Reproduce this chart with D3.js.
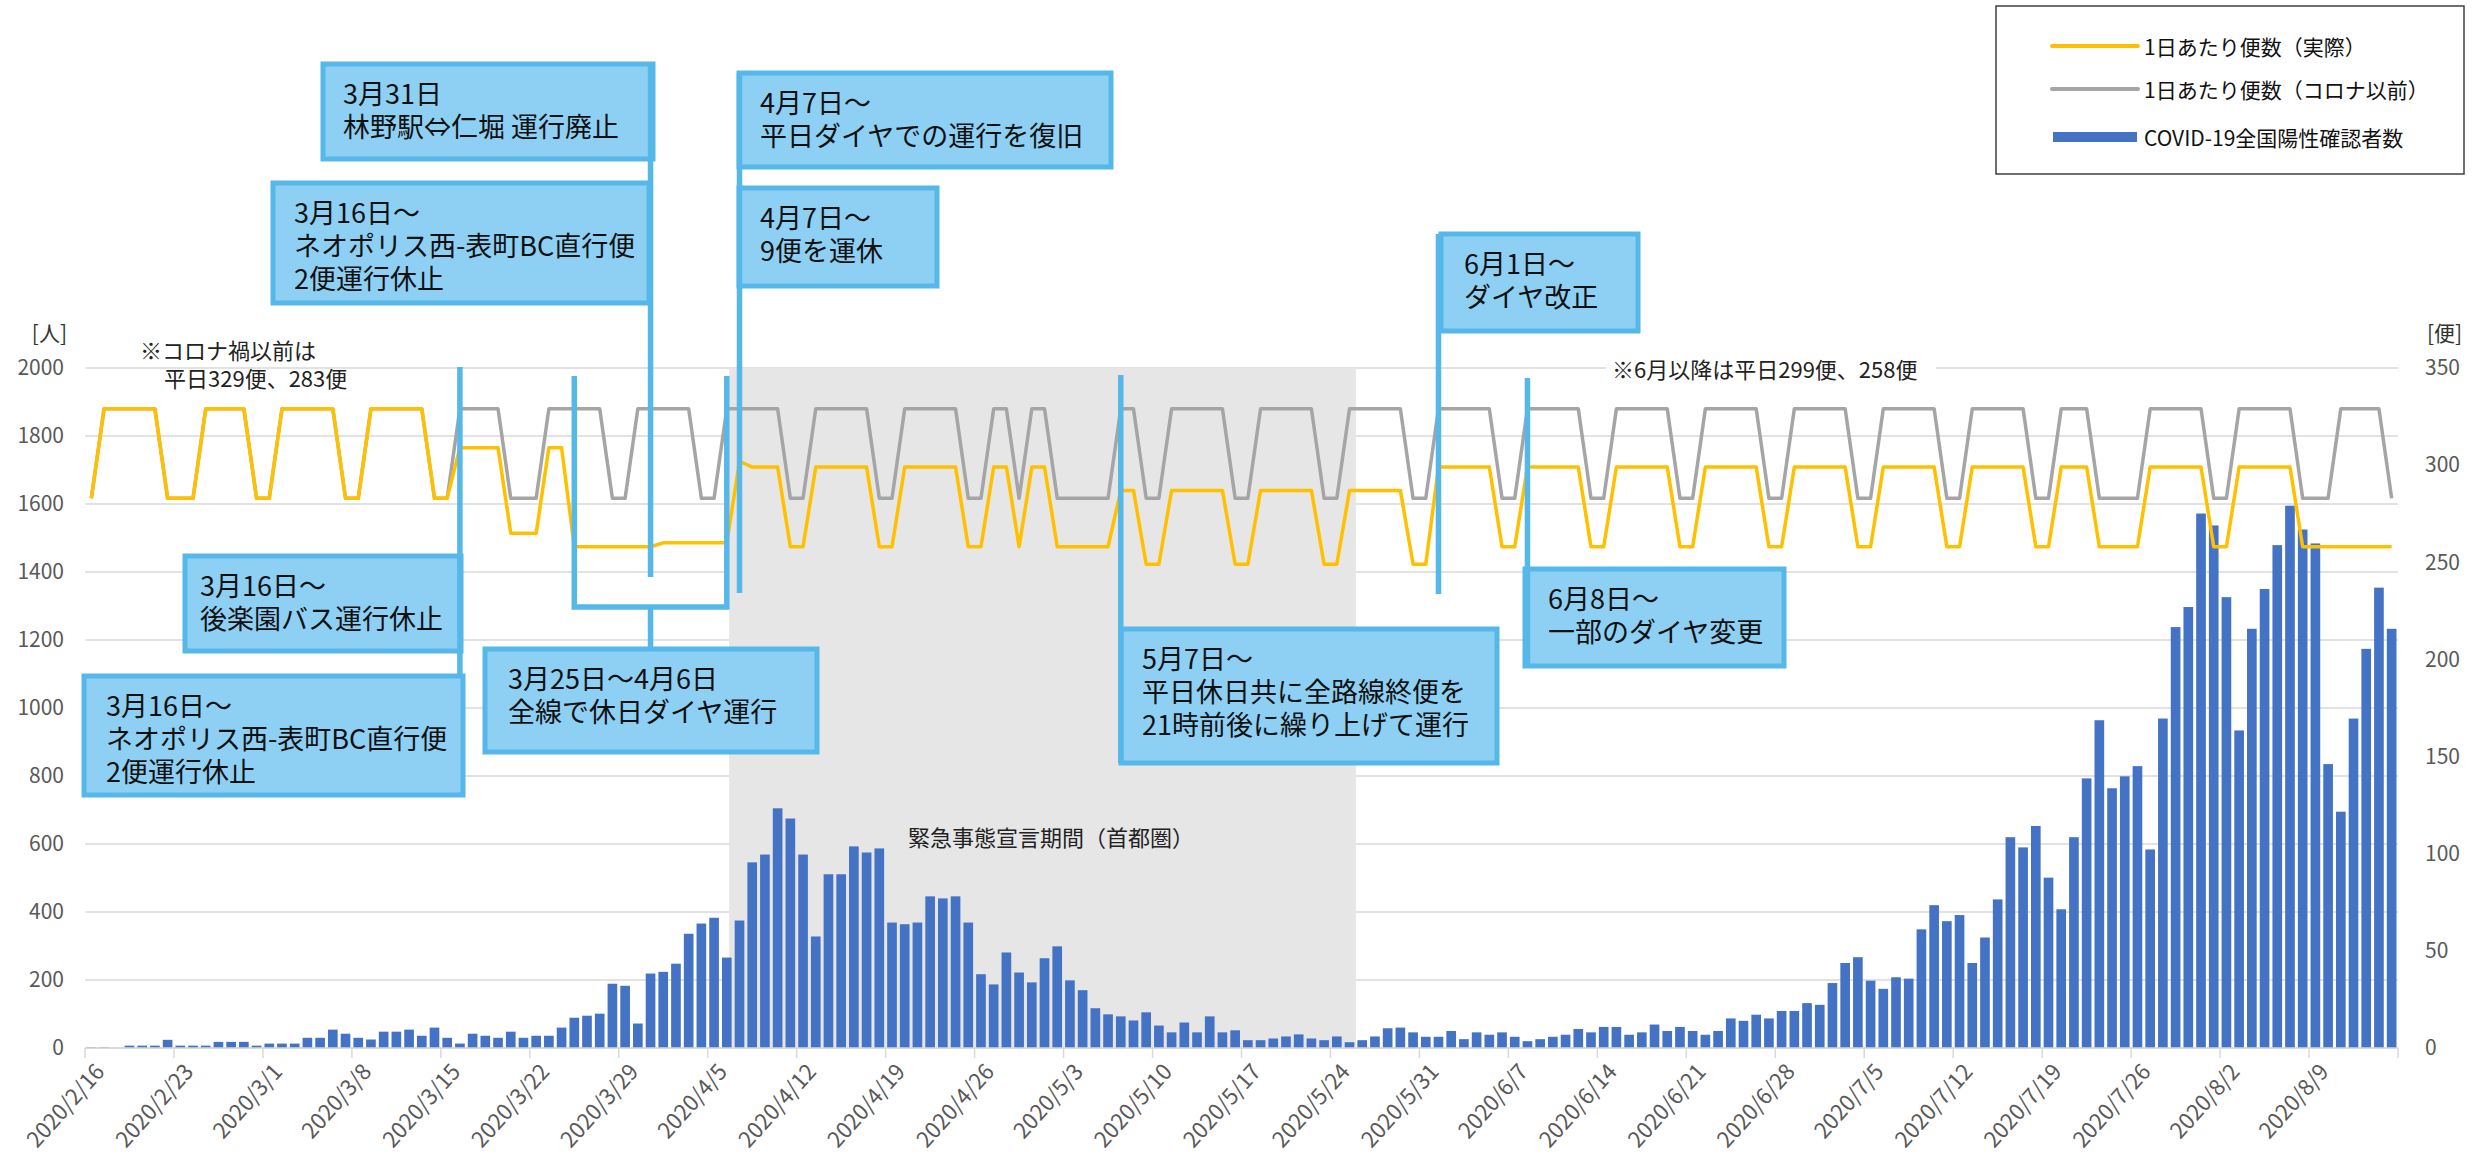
<!DOCTYPE html>
<html lang="ja">
<head>
<meta charset="utf-8">
<script src="https://cdn.jsdelivr.net/npm/d3@7"></script>
<style>
  body { margin: 0; background: #fff; }
  text { font-family: "Noto Sans CJK JP", "Noto Sans", sans-serif; }
</style>
</head>
<body>
<div id="chart"></div>
<script>
// 日付 (2020/2/16 から 182日)
const firstDay = new Date(2020, 1, 16);
const lastDay = new Date(2020, 7, 16);

const tickLabels = ["2020/2/16", "2020/2/23", "2020/3/1", "2020/3/8", "2020/3/15", "2020/3/22",
  "2020/3/29", "2020/4/5", "2020/4/12", "2020/4/19", "2020/4/26", "2020/5/3", "2020/5/10",
  "2020/5/17", "2020/5/24", "2020/5/31", "2020/6/7", "2020/6/14", "2020/6/21", "2020/6/28",
  "2020/7/5", "2020/7/12", "2020/7/19", "2020/7/26", "2020/8/2", "2020/8/9"];

// COVID-19全国陽性確認者数 (1週間ずつ, 日曜始まり)
const cases = [
  2, 2, 0, 7, 7, 7, 24,
  7, 7, 7, 18, 18, 18, 7,
  13, 13, 13, 30, 30, 54, 42,
  30, 25, 48, 48, 54, 36, 60,
  30, 13, 42, 36, 30, 48, 30,
  36, 36, 60, 89, 95, 101, 189,
  183, 72, 219, 224, 248, 336, 366,
  383, 266, 375, 546, 569, 705, 675,
  569, 328, 511, 511, 593, 575, 587,
  369, 364, 369, 446, 440, 446, 369,
  217, 187, 281, 222, 193, 264, 299,
  199, 170, 117, 99, 93, 81, 105,
  66, 46, 75, 46, 93, 46, 52,
  23, 23, 28, 34, 40, 28, 23,
  34, 17, 23, 34, 58, 60, 46,
  33, 33, 50, 26, 46, 39, 46,
  33, 20, 26, 33, 39, 56, 46,
  62, 62, 39, 46, 69, 50, 62,
  50, 39, 50, 87, 80, 98, 87,
  109, 109, 132, 127, 191, 250, 267,
  198, 174, 208, 204, 349, 420, 373,
  391, 250, 325, 437, 620, 590, 653,
  501, 408, 620, 793, 964, 764, 799,
  829, 584, 969, 1238, 1297, 1572, 1537,
  1326, 934, 1233, 1350, 1479, 1595, 1525,
  1484, 835, 695, 969, 1174, 1354, 1233
];

// 1日あたり便数（コロナ以前）
const busesBefore = [
  283, 329, 329, 329, 329, 329, 283,
  283, 283, 329, 329, 329, 329, 283,
  283, 329, 329, 329, 329, 329, 283,
  283, 329, 329, 329, 329, 329, 283,
  283, 329, 329, 329, 329, 283, 283,
  283, 329, 329, 329, 329, 329, 283,
  283, 329, 329, 329, 329, 329, 283,
  283, 329, 329, 329, 329, 329, 283,
  283, 329, 329, 329, 329, 329, 283,
  283, 329, 329, 329, 329, 329, 283,
  283, 329, 329, 283, 329, 329, 283,
  283, 283, 283, 283, 329, 329, 283,
  283, 329, 329, 329, 329, 329, 283,
  283, 329, 329, 329, 329, 329, 283,
  283, 329, 329, 329, 329, 329, 283,
  283, 329, 329, 329, 329, 329, 283,
  283, 329, 329, 329, 329, 329, 283,
  283, 329, 329, 329, 329, 329, 283,
  283, 329, 329, 329, 329, 329, 283,
  283, 329, 329, 329, 329, 329, 283,
  283, 329, 329, 329, 329, 329, 283,
  283, 329, 329, 329, 329, 329, 283,
  283, 329, 329, 329, 283, 283, 283,
  283, 329, 329, 329, 329, 329, 283,
  283, 329, 329, 329, 329, 329, 283,
  283, 283, 329, 329, 329, 329, 283
];

// 1日あたり便数（実際）
const busesActual = [
  283, 329, 329, 329, 329, 329, 283,
  283, 283, 329, 329, 329, 329, 283,
  283, 329, 329, 329, 329, 329, 283,
  283, 329, 329, 329, 329, 329, 283,
  283, 309, 309, 309, 309, 265, 265,
  265, 309, 309, 258, 258, 258, 258,
  258, 258, 258, 260, 260, 260, 260,
  260, 260, 302, 299, 299, 299, 258,
  258, 299, 299, 299, 299, 299, 258,
  258, 299, 299, 299, 299, 299, 258,
  258, 299, 299, 258, 299, 299, 258,
  258, 258, 258, 258, 287, 287, 249,
  249, 287, 287, 287, 287, 287, 249,
  249, 287, 287, 287, 287, 287, 249,
  249, 287, 287, 287, 287, 287, 249,
  249, 299, 299, 299, 299, 299, 258,
  258, 299, 299, 299, 299, 299, 258,
  258, 299, 299, 299, 299, 299, 258,
  258, 299, 299, 299, 299, 299, 258,
  258, 299, 299, 299, 299, 299, 258,
  258, 299, 299, 299, 299, 299, 258,
  258, 299, 299, 299, 299, 299, 258,
  258, 299, 299, 299, 258, 258, 258,
  258, 299, 299, 299, 299, 299, 258,
  258, 299, 299, 299, 299, 299, 258,
  258, 258, 258, 258, 258, 258, 258
];

const leftTicks = [0, 200, 400, 600, 800, 1000, 1200, 1400, 1600, 1800, 2000];
const rightTicks = [0, 50, 100, 150, 200, 250, 300, 350];

const emergencyPeriod = ["2020/4/7", "2020/5/25"];

// 吹き出し（配置はピクセル）
const callouts = [
  { box: [323, 64, 330, 95], pad: 20, lines: ["3月31日", "林野駅⇔仁堀 運行廃止"] },
  { box: [273, 183, 376, 120], pad: 21, lines: ["3月16日～", "ネオポリス西-表町BC直行便", "2便運行休止"] },
  { box: [739, 73, 372, 94], pad: 21, lines: ["4月7日～", "平日ダイヤでの運行を復旧"] },
  { box: [739, 188, 198, 98], pad: 21, lines: ["4月7日～", "9便を運休"] },
  { box: [1441, 234, 197, 97], pad: 23, lines: ["6月1日～", "ダイヤ改正"] },
  { box: [185, 556, 276, 95], pad: 15, lines: ["3月16日～", "後楽園バス運行休止"] },
  { box: [84, 676, 379, 119], pad: 22, lines: ["3月16日～", "ネオポリス西-表町BC直行便", "2便運行休止"] },
  { box: [485, 649, 332, 103], pad: 23, lines: ["3月25日～4月6日", "全線で休日ダイヤ運行"] },
  { box: [1121, 629, 376, 134], pad: 21, lines: ["5月7日～", "平日休日共に全路線終便を", "21時前後に繰り上げて運行"] },
  { box: [1525, 569, 259, 97], pad: 23, lines: ["6月8日～", "一部のダイヤ変更"] }
];
const connectors = [
  { date: "2020/3/16", y1: 367, y2: 676 },
  { date: "2020/3/31", y1: 64, y2: 577 },
  { date: "2020/4/7", y1: 73, y2: 593 },
  { date: "2020/5/7", y1: 375, y2: 763 },
  { date: "2020/6/1", y1: 234, y2: 594 },
  { date: "2020/6/8", y1: 378, y2: 666 }
];
const bracket = { from: "2020/3/25", to: "2020/4/6", top: 376, bottom: 607, stemEnd: 649 };

const fmt = d3.timeFormat("%Y/%-m/%-d");
const days = d3.timeDay.range(firstDay, lastDay).map(fmt);

const W = 2476, H = 1158;
const plot = { left: 85, right: 2398, top: 368, bottom: 1048 };
const font = '"Noto Sans CJK JP", "Noto Sans", sans-serif';

const svg = d3.select("#chart").append("svg")
  .attr("width", W).attr("height", H)
  .style("display", "block");

const x = d3.scaleBand()
  .domain(days)
  .range([plot.left, plot.right])
  .paddingInner(0.24)
  .paddingOuter(0.12);
const half = (x.step() - x.bandwidth()) / 2;
const cx = d => x(d) + x.bandwidth() / 2;

const yL = d3.scaleLinear().domain([0, 2000]).range([plot.bottom, plot.top]);
const yR = d3.scaleLinear().domain([0, 350]).range([plot.bottom, plot.top]);

// gridlines
svg.append("g").selectAll("line")
  .data(leftTicks)
  .enter().append("line")
  .attr("x1", plot.left).attr("x2", plot.right)
  .attr("y1", d => yL(d)).attr("y2", d => yL(d))
  .attr("stroke", "#d9d9d9").attr("stroke-width", 1.5);

// 緊急事態宣言期間
const shadeX = x(emergencyPeriod[0]) - half - 4;
svg.append("rect")
  .attr("x", shadeX)
  .attr("y", plot.top)
  .attr("width", x(emergencyPeriod[1]) + x.bandwidth() + half - shadeX)
  .attr("height", plot.bottom - plot.top)
  .attr("fill", "#e6e6e6");

svg.append("text")
  .attr("x", 1051).attr("y", 836)
  .attr("text-anchor", "middle").attr("dominant-baseline", "central")
  .attr("font-size", 22).attr("fill", "#222")
  .text("緊急事態宣言期間（首都圏）");

// bars
svg.append("g").selectAll("rect")
  .data(cases)
  .enter().append("rect")
  .attr("x", (d, i) => x(days[i]))
  .attr("y", d => yL(d))
  .attr("width", x.bandwidth())
  .attr("height", d => plot.bottom - yL(d))
  .attr("fill", "#4472c4");

// lines
const line = d3.line()
  .x((d, i) => cx(days[i]))
  .y(d => yR(d));

svg.append("path")
  .datum(busesBefore)
  .attr("d", line)
  .attr("fill", "none").attr("stroke", "#a5a5a5")
  .attr("stroke-width", 3.5).attr("stroke-linejoin", "round");

svg.append("path")
  .datum(busesActual)
  .attr("d", line)
  .attr("fill", "none").attr("stroke", "#ffc000")
  .attr("stroke-width", 3.5).attr("stroke-linejoin", "round");

// x axis
svg.append("line")
  .attr("x1", plot.left).attr("x2", plot.right)
  .attr("y1", plot.bottom).attr("y2", plot.bottom)
  .attr("stroke", "#d9d9d9").attr("stroke-width", 1.5);

const tickPos = tickLabels.map(d => x(d) - half).concat([plot.right]);
svg.append("g").selectAll("line")
  .data(tickPos)
  .enter().append("line")
  .attr("x1", d => d).attr("x2", d => d)
  .attr("y1", plot.bottom).attr("y2", plot.bottom + 10)
  .attr("stroke", "#d9d9d9").attr("stroke-width", 1.5);

svg.append("g").selectAll("text")
  .data(tickLabels)
  .enter().append("text")
  .attr("transform", d => "translate(" + (cx(d) + 7) + "," + (plot.bottom + 18) + ")rotate(-48)")
  .attr("text-anchor", "end").attr("dominant-baseline", "central")
  .attr("font-size", 22).attr("fill", "#595959")
  .text(d => d);

// y axes
svg.append("g")
  .attr("transform", "translate(64,0)")
  .call(d3.axisLeft(yL).tickValues(leftTicks).tickFormat(d3.format("d")).tickSize(0).tickPadding(0))
  .call(g => g.select(".domain").remove())
  .selectAll("text")
  .attr("font-size", 21).attr("font-family", font).attr("fill", "#595959");

svg.append("g")
  .attr("transform", "translate(2425,0)")
  .call(d3.axisRight(yR).tickValues(rightTicks).tickSize(0).tickPadding(0))
  .call(g => g.select(".domain").remove())
  .selectAll("text")
  .attr("font-size", 21).attr("font-family", font).attr("fill", "#595959");

svg.append("text").attr("x", 67).attr("y", 332)
  .attr("text-anchor", "end").attr("dominant-baseline", "central")
  .attr("font-size", 21).attr("fill", "#333").text("[人]");
svg.append("text").attr("x", 2427).attr("y", 332)
  .attr("dominant-baseline", "central")
  .attr("font-size", 21).attr("fill", "#333").text("[便]");

// notes (2行を1つのtextに)
const note1 = svg.append("text")
  .attr("font-size", 22).attr("fill", "#222");
note1.append("tspan").attr("x", 140).attr("y", 359).text("※コロナ禍以前は");
note1.append("tspan").attr("x", 164).attr("y", 387).text("平日329便、283便");

const note2 = svg.append("g");
note2.append("rect").attr("x", 1606).attr("y", 354).attr("width", 330).attr("height", 28).attr("fill", "#fff");
note2.append("text").attr("x", 1612).attr("y", 368)
  .attr("dominant-baseline", "central").attr("font-size", 22).attr("fill", "#222")
  .text("※6月以降は平日299便、258便");

// callouts
const blue = "#55b8e8";
const cg = svg.append("g");
callouts.forEach(c => {
  const [bx, by, bw, bh] = c.box;
  cg.append("rect")
    .attr("x", bx).attr("y", by).attr("width", bw).attr("height", bh)
    .attr("fill", "#8dd0f4").attr("stroke", blue).attr("stroke-width", 5);
  const t = cg.append("text")
    .attr("font-size", 27).attr("fill", "#111");
  c.lines.forEach((s, i) => {
    t.append("tspan")
      .attr("x", bx + c.pad).attr("y", by + 40 + i * 33)
      .text(s);
  });
});

connectors.forEach(c => {
  cg.append("line")
    .attr("x1", cx(c.date)).attr("x2", cx(c.date))
    .attr("y1", c.y1).attr("y2", c.y2)
    .attr("stroke", blue).attr("stroke-width", 5.5);
});

const bx1 = cx(bracket.from), bx2 = cx(bracket.to);
cg.append("path")
  .attr("d", "M" + bx1 + "," + bracket.top + "V" + bracket.bottom + "H" + bx2 + "V" + bracket.top +
    "M" + ((bx1 + bx2) / 2) + "," + bracket.bottom + "V" + bracket.stemEnd)
  .attr("fill", "none").attr("stroke", blue).attr("stroke-width", 5.5);

// legend
const lg = svg.append("g");
lg.append("rect").attr("x", 1996).attr("y", 6).attr("width", 468).attr("height", 168)
  .attr("fill", "#fff").attr("stroke", "#404040").attr("stroke-width", 1.5);
const legendItems = [
  { label: "1日あたり便数（実際）", color: "#ffc000", y: 46, kind: "line" },
  { label: "1日あたり便数（コロナ以前）", color: "#a5a5a5", y: 89, kind: "line" },
  { label: "COVID-19全国陽性確認者数", color: "#4472c4", y: 137, kind: "bar" }
];
legendItems.forEach(it => {
  if (it.kind === "line") {
    lg.append("line").attr("x1", 2052).attr("x2", 2138).attr("y1", it.y).attr("y2", it.y)
      .attr("stroke", it.color).attr("stroke-width", 4).attr("stroke-linecap", "round");
  } else {
    lg.append("rect").attr("x", 2053).attr("y", it.y - 5).attr("width", 84).attr("height", 10)
      .attr("fill", it.color);
  }
  lg.append("text").attr("x", 2144).attr("y", it.y)
    .attr("dominant-baseline", "central").attr("font-size", 21).attr("fill", "#111")
    .text(it.label);
});
</script>
</body>
</html>
